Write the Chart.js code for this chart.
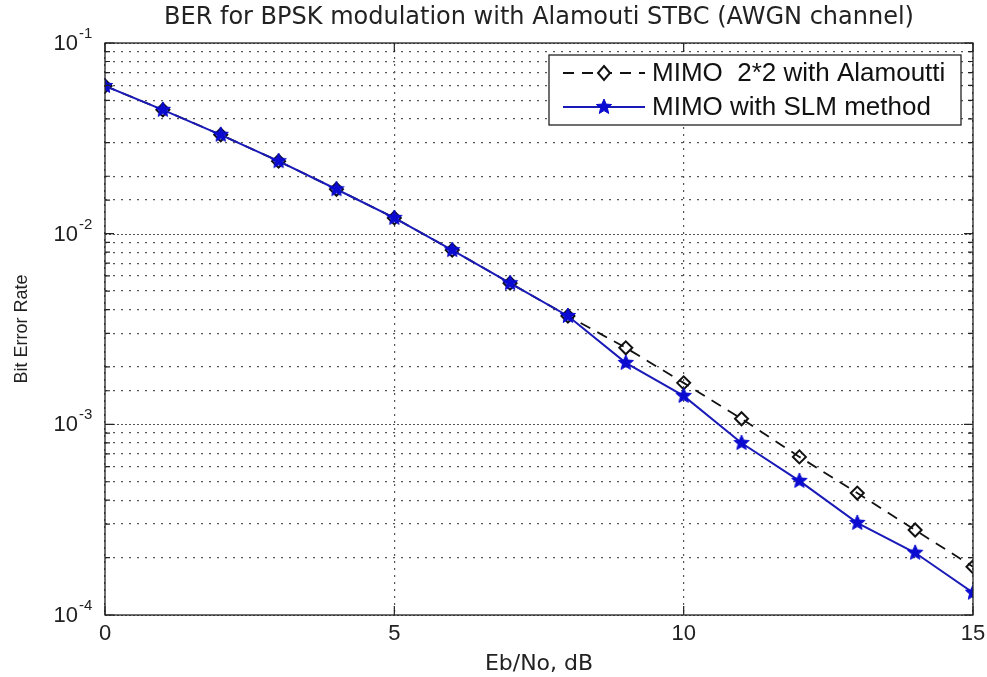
<!DOCTYPE html>
<html>
<head>
<meta charset="utf-8">
<script src="https://cdn.jsdelivr.net/npm/chart.js@4/dist/chart.umd.min.js"></script>
<style>
  html, body { margin: 0; padding: 0; background: #fff; }
  #wrap { width: 987px; height: 677px; }
</style>
</head>
<body>
<div id="wrap"><canvas id="ber"></canvas></div>
<script>
const ebno = [0, 1, 2, 3, 4, 5, 6, 7, 8, 9, 10, 11, 12, 13, 14, 15];
const berAlamouti = [0.0595, 0.0446, 0.0330, 0.0240, 0.0171, 0.0121, 0.0082, 0.0055, 0.0037,
  0.00252, 0.00165, 0.00107, 0.000675, 0.000436, 0.000279, 0.000179];
const berSlm = [0.0595, 0.0446, 0.0330, 0.0240, 0.0171, 0.0121, 0.0082, 0.0055, 0.0037,
  0.00210, 0.00141, 0.000798, 0.000505, 0.000304, 0.000212, 0.000131];
const xTicks = [0, 5, 10, 15];
const yDecades = [1e-1, 1e-2, 1e-3, 1e-4];
const chartTitle = "BER for BPSK modulation with Alamouti STBC (AWGN channel)";

const FONT = "'Liberation Sans', Arial, sans-serif";
const WIDE = "'DejaVu Sans', Verdana, sans-serif";

const isDecade = v => yDecades.some(d => Math.abs(v - d) < d * 1e-6);

// filled five point star for the SLM series
const makeStar = (r, color) => {
  const c = document.createElement("canvas");
  c.width = c.height = r * 2 + 2;
  const g = c.getContext("2d");
  g.beginPath();
  for (let i = 0; i < 10; i++) {
    const rad = i % 2 === 0 ? r : r * 0.45;
    const a = -Math.PI / 2 + i * Math.PI / 5;
    g.lineTo(r + 1 + rad * Math.cos(a), r + 1 + rad * Math.sin(a));
  }
  g.closePath();
  g.fillStyle = color;
  g.fill();
  g.strokeStyle = color;
  g.lineWidth = 1;
  g.stroke();
  return c;
};
const starImg = makeStar(8, "#0a0ad0");

// denser dots on the decade lines, like matlab draws them
const decadeGrid = {
  id: "decadeGrid",
  beforeDatasetsDraw(chart) {
    const { ctx, chartArea: a, scales } = chart;
    ctx.save();
    ctx.strokeStyle = "#555";
    ctx.lineWidth = 1.2;
    ctx.setLineDash([2, 2]);
    ctx.beginPath();
    yDecades.forEach(v => {
      const y = Math.round(scales.y.getPixelForValue(v)) + 0.5;
      ctx.moveTo(a.left, y); ctx.lineTo(a.right, y);
    });
    ctx.stroke();
    ctx.restore();
  }
};

// title over the plot, box, inward ticks, y labels with exponents and the legend
const matlabBox = {
  id: "matlabBox",
  afterDatasetsDraw(chart) {
    const { ctx, chartArea: a, scales } = chart;
    ctx.save();

    ctx.fillStyle = "#222";
    ctx.font = "24px " + WIDE;
    ctx.textAlign = "center";
    ctx.textBaseline = "middle";
    ctx.fillText(chartTitle, (a.left + a.right) / 2, 18);

    ctx.strokeStyle = "#222";
    ctx.lineWidth = 1.3;
    ctx.strokeRect(a.left, a.top, a.right - a.left, a.bottom - a.top);
    ctx.lineWidth = 1.2;
    ctx.beginPath();
    scales.y.ticks.forEach(t => {
      const y = scales.y.getPixelForValue(t.value);
      const len = isDecade(t.value) ? 9 : 5;
      ctx.moveTo(a.left, y); ctx.lineTo(a.left + len, y);
      ctx.moveTo(a.right, y); ctx.lineTo(a.right - len, y);
    });
    xTicks.forEach(v => {
      const x = scales.x.getPixelForValue(v);
      ctx.moveTo(x, a.bottom); ctx.lineTo(x, a.bottom - 9);
      ctx.moveTo(x, a.top); ctx.lineTo(x, a.top + 9);
    });
    ctx.stroke();

    // y tick labels: 10 with a raised exponent
    ctx.fillStyle = "#222";
    yDecades.forEach(v => {
      const y = scales.y.getPixelForValue(v);
      ctx.font = "22px " + FONT;
      ctx.textAlign = "right";
      ctx.textBaseline = "middle";
      ctx.fillText("10", 78, y + 1);
      ctx.font = "15px " + FONT;
      ctx.textAlign = "left";
      ctx.textBaseline = "alphabetic";
      ctx.fillText(String(Math.round(Math.log10(v))), 79, y - 5);
    });

    // legend
    const bx = 549, by = 55, bw = 412, bh = 70;
    ctx.fillStyle = "#fff";
    ctx.fillRect(bx, by, bw, bh);
    ctx.strokeStyle = "#222";
    ctx.lineWidth = 1.3;
    ctx.strokeRect(bx, by, bw, bh);
    const rows = [73, 107];
    chart.data.datasets.forEach((ds, i) => {
      const y = rows[i];
      ctx.strokeStyle = ds.borderColor;
      ctx.lineWidth = ds.borderWidth;
      ctx.setLineDash(ds.borderDash || []);
      ctx.beginPath();
      ctx.moveTo(563, y); ctx.lineTo(645, y);
      ctx.stroke();
      ctx.setLineDash([]);
      if (ds.pointStyle === "rectRot") {
        ctx.lineWidth = 2;
        ctx.strokeStyle = ds.pointBorderColor;
        ctx.fillStyle = "#fff";
        ctx.beginPath();
        ctx.moveTo(604, y - 7); ctx.lineTo(610, y); ctx.lineTo(604, y + 7); ctx.lineTo(598, y);
        ctx.closePath();
        ctx.fill(); ctx.stroke();
      } else {
        ctx.drawImage(starImg, 604 - starImg.width / 2, y - starImg.height / 2);
      }
      ctx.fillStyle = "#111";
      ctx.font = "26px " + FONT;
      ctx.textAlign = "left";
      ctx.textBaseline = "middle";
      ctx.fillText(ds.label, 652, y + 1);
    });
    ctx.restore();
  }
};

new Chart(document.getElementById("ber"), {
  type: "line",
  data: {
    labels: ebno,
    datasets: [
      {
        label: "MIMO  2*2 with Alamoutti",
        data: berAlamouti,
        borderColor: "#111",
        borderWidth: 1.8,
        borderDash: [11, 8],
        pointStyle: "rectRot",
        pointRadius: 6.5,
        pointBorderWidth: 2,
        pointBorderColor: "#111",
        pointBackgroundColor: "rgba(255,255,255,0)",
        order: 1
      },
      {
        label: "MIMO with SLM method",
        data: berSlm,
        borderColor: "#1a1ab8",
        borderWidth: 2,
        pointStyle: starImg,
        order: 0
      }
    ]
  },
  options: {
    responsive: true,
    maintainAspectRatio: false,
    animation: false,
    layout: { padding: { left: 0, right: 14, top: 43, bottom: 0 } },
    plugins: {
      legend: { display: false },
      tooltip: { enabled: false },
      title: { display: false }
    },
    scales: {
      x: {
        type: "linear",
        min: 0,
        max: 15,
        afterBuildTicks: s => { s.ticks = xTicks.map(v => ({ value: v })); },
        afterFit: s => { s.height = 62; s.paddingLeft = 0; s.paddingRight = 0; },
        grid: { color: "#555", lineWidth: 1.2, drawTicks: false },
        border: { display: false, dash: [2, 5] },
        ticks: { color: "#222", font: { family: FONT, size: 22 }, padding: 6 },
        title: {
          display: true,
          text: "Eb/No, dB",
          color: "#222",
          font: { family: WIDE, size: 22 },
          padding: { top: 0, bottom: 0 }
        }
      },
      y: {
        type: "logarithmic",
        min: 1e-4,
        max: 1e-1,
        afterFit: s => { s.width = 105; s.paddingTop = 0; s.paddingBottom = 0; },
        grid: {
          color: c => (c.tick && isDecade(c.tick.value) ? "rgba(0,0,0,0)" : "#555"),
          lineWidth: 1.2,
          drawTicks: false
        },
        border: { display: false, dash: [2, 6] },
        ticks: { autoSkip: false, callback: () => "" },
        title: {
          display: true,
          text: "Bit Error Rate",
          color: "#222",
          font: { family: FONT, size: 18 },
          padding: { top: 11, bottom: 0 }
        }
      }
    }
  },
  plugins: [decadeGrid, matlabBox]
});
</script>
</body>
</html>
